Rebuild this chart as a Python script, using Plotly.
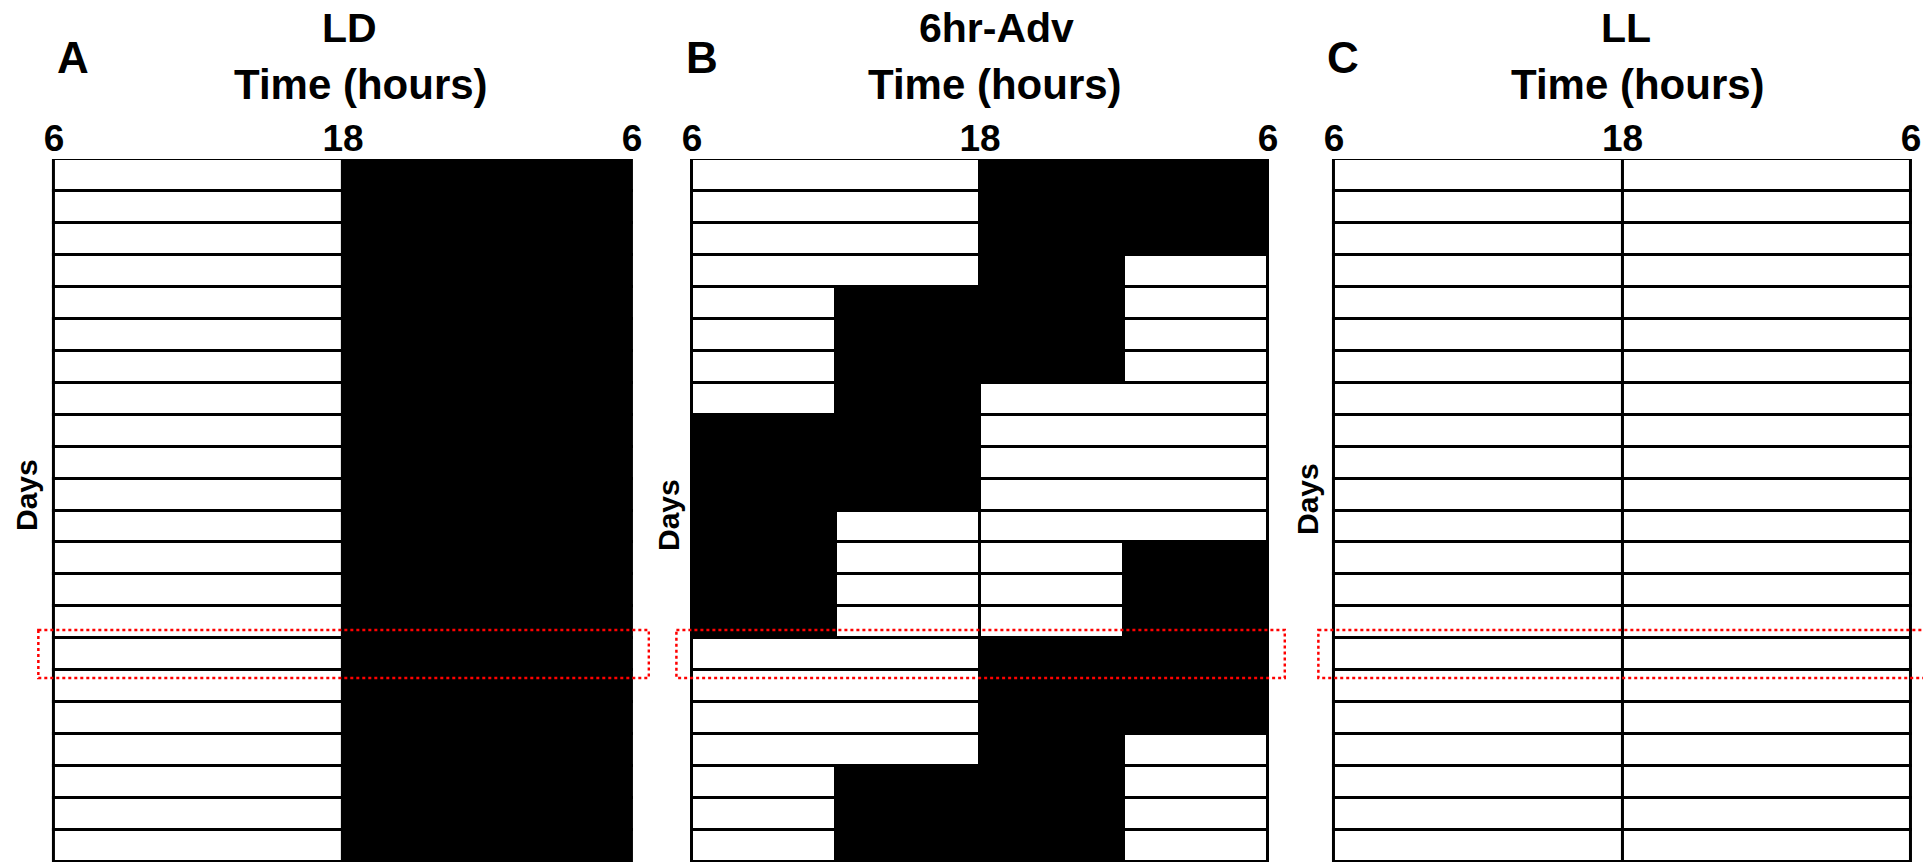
import plotly.graph_objects as go

# ---------------- data ----------------
W, H = 1923, 862

panel_letters = ["A", "B", "C"]
panel_titles = ["LD", "6hr-Adv", "LL"]
axis_title = "Time (hours)"
y_title = "Days"
tick_hours = [0, 12, 24]          # hours after 06:00
tick_labels = ["6", "18", "6"]
quarter_len = 6                   # each schedule character = 6 h
days = list(range(1, 23))
highlight_day = 16

# L = lights on (white), D = dark (black), one character per 6 h block (06-12, 12-18, 18-24, 24-06)
ld_schedule = [
    "LLDD", "LLDD", "LLDD", "LLDD", "LLDD", "LLDD", "LLDD", "LLDD", "LLDD", "LLDD", "LLDD",
    "LLDD", "LLDD", "LLDD", "LLDD", "LLDD", "LLDD", "LLDD", "LLDD", "LLDD", "LLDD", "LLDD",
]
adv_schedule = [
    "LLDD", "LLDD", "LLDD", "LLDL", "LDDL", "LDDL", "LDDL", "LDLL", "DDLL", "DDLL", "DDLL",
    "DLLL", "DLLD", "DLLD", "DLLD", "LLDD", "LLDD", "LLDD", "LLDL", "LDDL", "LDDL", "LDDL",
]
ll_schedule = [
    "LLLL", "LLLL", "LLLL", "LLLL", "LLLL", "LLLL", "LLLL", "LLLL", "LLLL", "LLLL", "LLLL",
    "LLLL", "LLLL", "LLLL", "LLLL", "LLLL", "LLLL", "LLLL", "LLLL", "LLLL", "LLLL", "LLLL",
]
schedules = [ld_schedule, adv_schedule, ll_schedule]

# ---------------- layout constants (pixels) ----------------
FONT = "Liberation Sans, Arial, sans-serif"
plot_top = 159
panel_px = [(54, 632), (692, 1268), (1334, 1911)]
pad_h = 0.75
letter_pos = [(73, 57), (702, 57), (1343, 57)]
title_pos = [(349, 28), (996, 28), (1626, 28)]
time_pos = [(361, 84), (995, 84), (1638, 84)]
days_pos = [(26, 495), (668, 515), (1307, 499)]


def segments(sched):
    """Split each day into the two 12 h halves, merging equal neighbouring blocks."""
    out = {"L": ([], [], []), "D": ([], [], [])}
    for day, s in zip(days, sched):
        for half in (0, 2):
            q = half
            while q < half + 2:
                state = s[q]
                start = q
                while q < half + 2 and s[q] == state:
                    q += 1
                ys, xs, bs = out[state]
                ys.append(day)
                xs.append((q - start) * quarter_len)
                bs.append(start * quarter_len)
    return out


fig = go.Figure()
ydom = [0, 1 - plot_top / H]
annotations = []
shapes = []

for i, sched in enumerate(schedules):
    n = "" if i == 0 else str(i + 1)
    segs = segments(sched)
    for state, color in (("L", "white"), ("D", "black")):
        ys, xs, bs = segs[state]
        if not ys:
            continue
        fig.add_trace(go.Bar(
            orientation="h", y=ys, x=xs, base=bs, width=1,
            marker=dict(color=color, line=dict(color="black", width=3)),
            xaxis="x" + n, yaxis="y" + n, showlegend=False, hoverinfo="skip",
        ))

    x0, x1 = panel_px[i]
    pph = (x1 - x0) / 24.0
    left = x0 - pad_h * pph
    right = min(x1 + pad_h * pph, W)
    rng_hi = 24 + (right - x1) / pph
    fig.layout["xaxis" + n] = dict(
        domain=[left / W, right / W], range=[-pad_h, rng_hi], anchor="y" + n,
        side="top", tickmode="array", tickvals=tick_hours, ticktext=tick_labels,
        ticks="", showgrid=False, zeroline=False, showline=False, fixedrange=True,
        tickfont=dict(family=FONT, size=37, color="black", weight="bold"),
    )
    fig.layout["yaxis" + n] = dict(
        domain=ydom, range=[len(days) + 0.5, 0.5], anchor="x" + n,
        visible=False, fixedrange=True,
    )

    # red dotted highlight of one day
    shapes.append(dict(
        type="rect", xref="x" + n, yref="y" + n,
        x0=-0.65, x1=24.7, y0=highlight_day - 0.76, y1=highlight_day + 0.74,
        line=dict(color="#ff0000", width=2.5, dash="dot"), fillcolor="rgba(0,0,0,0)",
        layer="above",
    ))

    def ann(text, pos, size, angle=0):
        annotations.append(dict(
            text=text, x=pos[0] / W, y=1 - pos[1] / H, xref="paper", yref="paper",
            xanchor="center", yanchor="middle", showarrow=False, textangle=angle,
            font=dict(family=FONT, size=size, color="black", weight="bold"),
        ))

    ann(panel_letters[i], letter_pos[i], 44)
    ann(panel_titles[i], title_pos[i], 41)
    ann(axis_title, time_pos[i], 42)
    ann(y_title, days_pos[i], 30, -90)

fig.update_layout(
    width=W, height=H, margin=dict(l=0, r=0, t=0, b=0),
    paper_bgcolor="white", plot_bgcolor="white",
    barmode="overlay", bargap=0,
    annotations=annotations, shapes=shapes,
)

fig.write_html(
    "out.html",
    config={"displayModeBar": False},
    post_script="document.body.style.margin='0';document.body.style.overflow='hidden';",
)
